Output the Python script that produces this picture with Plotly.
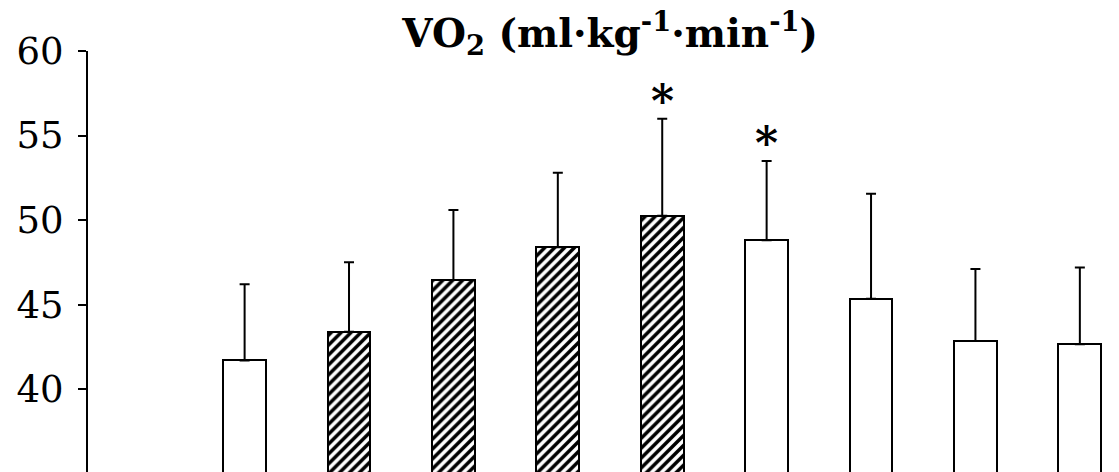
import plotly.graph_objects as go

# Data
stage = [1, 2, 3, 4, 5, 6, 7, 8, 9]
vo2_mean = [41.7, 43.4, 46.45, 48.4, 50.25, 48.8, 45.35, 42.85, 42.65]
vo2_sd = [4.5, 4.1, 4.15, 4.4, 5.75, 4.7, 6.2, 4.25, 4.55]
hatched = [False, True, True, True, True, False, False, False, False]
significant = [False, False, False, False, True, True, False, False, False]

y_ticks = [40, 45, 50, 55, 60]

fig = go.Figure()

fig.add_trace(go.Bar(
    x=stage,
    y=vo2_mean,
    base=0,
    width=0.41,
    marker=dict(
        color="white",
        line=dict(color="black", width=2),
        pattern=dict(
            shape=["/" if h else "" for h in hatched],
            fgcolor="black",
            bgcolor="white",
            size=7,
            solidity=0.5,
            fillmode="replace",
        ),
    ),
    error_y=dict(
        type="data",
        symmetric=False,
        array=vo2_sd,
        arrayminus=[0] * len(vo2_sd),
        color="black",
        thickness=2,
        width=5,
    ),
    showlegend=False,
    hoverinfo="skip",
))

for xs, m, sd, sig in zip(stage, vo2_mean, vo2_sd, significant):
    if sig:
        fig.add_annotation(
            x=xs, y=m + sd, xref="x", yref="y",
            text="<b>*</b>", showarrow=False,
            yanchor="bottom", yshift=-10,
            font=dict(family="DejaVu Serif", size=44, color="black"),
        )

fig.update_layout(
    width=1111, height=464,
    margin=dict(l=80, r=0, t=43, b=0),
    paper_bgcolor="white", plot_bgcolor="white",
    title=dict(
        text="<b>VO<sub>2</sub> (ml·kg<sup>-1</sup>·min<sup>-1</sup>)</b>",
        xref="container", x=0.542, xanchor="center",
        yref="container", y=0.945, yanchor="middle",
        font=dict(family="DejaVu Serif", size=39, color="black"),
    ),
    xaxis=dict(
        range=[-0.5, 9.375],
        showticklabels=False, ticks="", showgrid=False, zeroline=False,
        showline=True, linecolor="black", linewidth=2,
    ),
    yaxis=dict(
        range=[35.1, 60],
        tickvals=y_ticks,
        ticks="outside", ticklen=8, tickwidth=2, tickcolor="black",
        showgrid=False, zeroline=False,
        showline=True, linecolor="black", linewidth=2,
        tickfont=dict(family="DejaVu Serif", size=37, color="black"),
        ticklabelstandoff=7,
    ),
    bargap=0,
)

fig.write_html("out.html")
